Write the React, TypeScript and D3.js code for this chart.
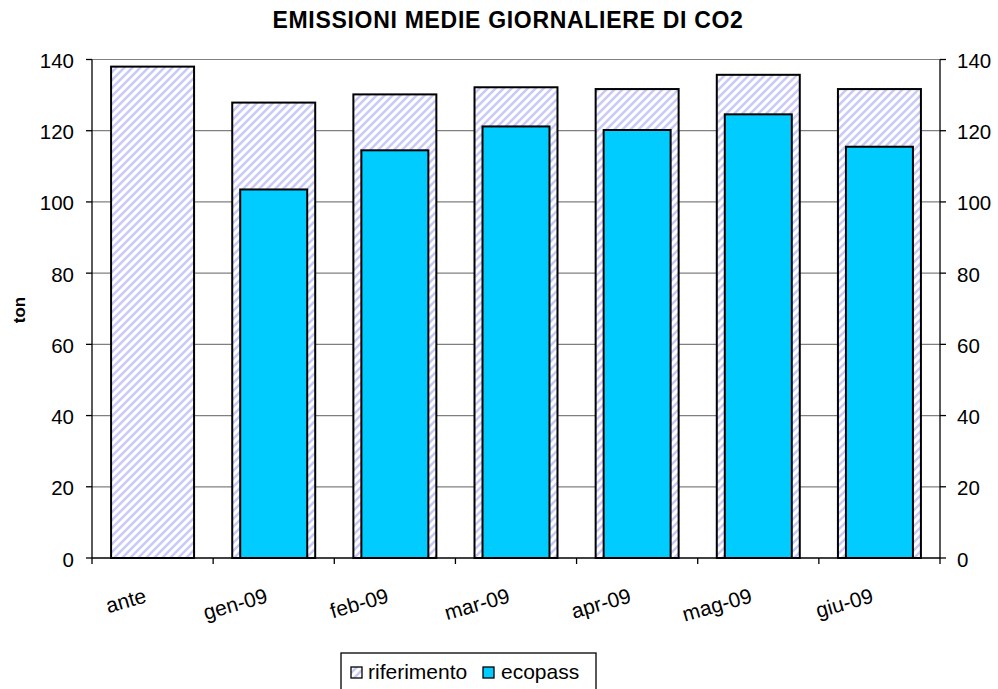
import React from "react";
import * as d3 from "d3";

const categories = ["ante", "gen-09", "feb-09", "mar-09", "apr-09", "mag-09", "giu-09"];
const riferimento = [138.0, 127.9, 130.2, 132.2, 131.7, 135.7, 131.7];
const ecopass: (number | null)[] = [null, 103.5, 114.5, 121.2, 120.2, 124.6, 115.5];
const yTicks = [0, 20, 40, 60, 80, 100, 120, 140];
const title = "EMISSIONI MEDIE GIORNALIERE DI CO2";
const yTitle = "ton";
const seriesNames = ["riferimento", "ecopass"];

const W = 998;
const H = 689;
const left = 92;
const right = 940;
const top = 59.5;
const bottom = 558;
const font = "'Liberation Sans', Arial, sans-serif";

export default function App() {
  const x = d3.scaleBand<string>().domain(categories).range([left, right]).paddingInner(0).paddingOuter(0);
  const y = d3.scaleLinear().domain([0, 140]).range([bottom, top]);
  const step = x.step();
  const wRif = step * 0.685;
  const wEco = step * 0.553;
  const boundaries = d3.range(categories.length + 1).map((i) => left + i * step);

  return (
    <svg width={W} height={H} style={{ position: "absolute", left: 0, top: 0, background: "#fff" }} fontFamily={font}>
      <defs>
        <pattern id="hatch" patternUnits="userSpaceOnUse" width={8} height={8}>
          <rect width={8} height={8} fill="#ffffff" />
          <path d="M-2,2 L2,-2 M0,8 L8,0 M6,10 L10,6" stroke="#c9c9f8" strokeWidth={2.5} />
        </pattern>
      </defs>
      <text x={508} y={28} textAnchor="middle" fontSize={23} fontWeight="bold" letterSpacing={0.7}>
        {title}
      </text>
      {yTicks.filter((t) => t > 0).map((t) => (
        <line key={"g" + t} x1={left} x2={right} y1={y(t)} y2={y(t)} stroke="#808080" strokeWidth={1.2} />
      ))}
      {categories.map((c, i) => {
        const cx = (x(c) as number) + step / 2;
        const e = ecopass[i];
        return (
          <g key={c}>
            <rect x={cx - wRif / 2} y={y(riferimento[i])} width={wRif} height={bottom - y(riferimento[i])} fill="url(#hatch)" stroke="#000" strokeWidth={2} />
            {e != null && (
              <rect x={cx - wEco / 2} y={y(e)} width={wEco} height={bottom - y(e)} fill="#00ccff" stroke="#000" strokeWidth={2} />
            )}
          </g>
        );
      })}
      <line x1={left} x2={left} y1={top} y2={bottom} stroke="#000" strokeWidth={1.3} />
      <line x1={right} x2={right} y1={top} y2={bottom} stroke="#000" strokeWidth={1.3} />
      <line x1={left} x2={right} y1={bottom} y2={bottom} stroke="#000" strokeWidth={1.3} />
      {yTicks.map((t) => (
        <g key={"t" + t}>
          <line x1={left - 6} x2={left} y1={y(t)} y2={y(t)} stroke="#000" strokeWidth={1.3} />
          <line x1={right} x2={right + 6} y1={y(t)} y2={y(t)} stroke="#000" strokeWidth={1.3} />
          <text x={74} y={y(t) + 1} textAnchor="end" dominantBaseline="central" fontSize={20.5}>{t}</text>
          <text x={957} y={y(t) + 1} textAnchor="start" dominantBaseline="central" fontSize={20.5}>{t}</text>
        </g>
      ))}
      {boundaries.map((b, i) => (
        <line key={"b" + i} x1={b} x2={b} y1={bottom} y2={bottom + 6} stroke="#000" strokeWidth={1.3} />
      ))}
      {categories.map((c) => {
        const cx = (x(c) as number) + step / 2;
        const ax = cx - 5;
        const ay = 602;
        return (
          <text key={"l" + c} x={ax} y={ay} textAnchor="end" fontSize={21} transform={`rotate(-16, ${ax}, ${ay})`}>
            {c}
          </text>
        );
      })}
      <text transform={`translate(25, 310) rotate(-90)`} textAnchor="middle" fontSize={17} fontWeight="bold">
        {yTitle}
      </text>
      <rect x={341} y={653} width={255} height={50} fill="#fff" stroke="#000" strokeWidth={1.3} />
      <rect x={351} y={667} width={11} height={11} fill="url(#hatch)" stroke="#000" strokeWidth={1.3} />
      <text x={368} y={679} fontSize={21}>{seriesNames[0]}</text>
      <rect x={483} y={667} width={11} height={11} fill="#00ccff" stroke="#000" strokeWidth={1.3} />
      <text x={501} y={679} fontSize={21}>{seriesNames[1]}</text>
    </svg>
  );
}
